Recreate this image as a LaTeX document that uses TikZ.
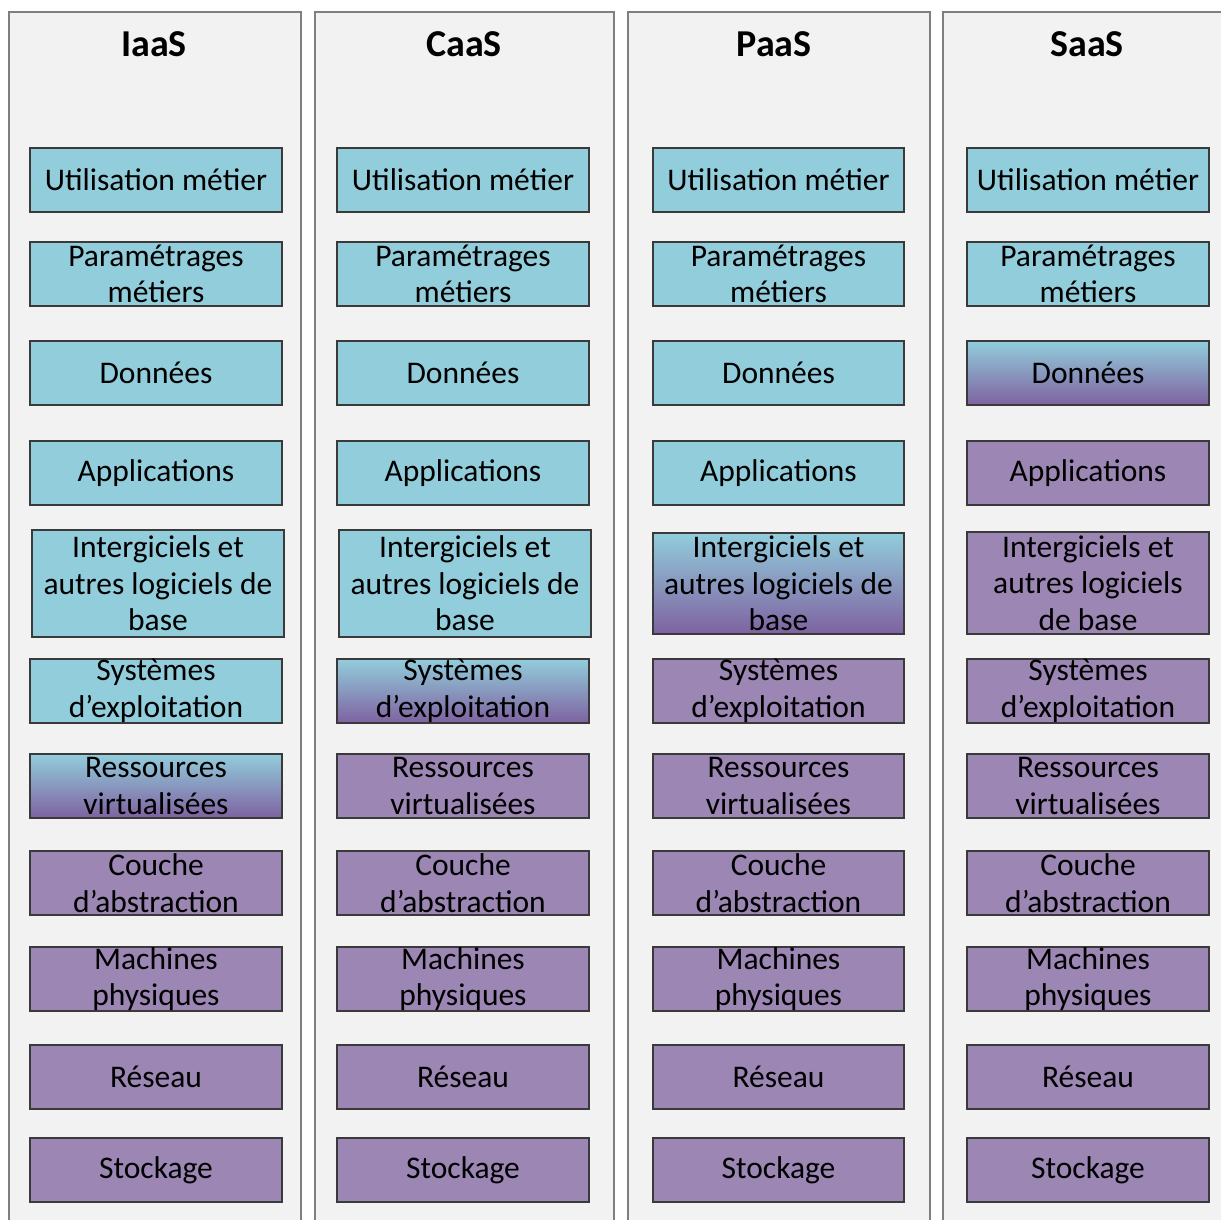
\documentclass[tikz,border=0pt]{standalone}
\usepackage{fontspec}
\setmainfont{Carlito}
\definecolor{bluebox}{HTML}{92CDDC}
\definecolor{purplebox}{HTML}{9B86B4}
\definecolor{purpledark}{HTML}{7E62A0}
\definecolor{panelfill}{HTML}{F2F2F2}
\definecolor{panelline}{HTML}{7F7F7F}
\definecolor{boxline}{HTML}{3A3A3A}
\tikzset{
  panel/.style={draw=panelline, fill=panelfill, line width=1.5pt},
  layer/.style={draw=boxline, line width=1.1pt, rectangle, inner sep=0pt,
    minimum width=252pt, minimum height=64pt, align=center,
    font=\fontsize{31.5}{36.5}\selectfont},
  bluefill/.style={fill=bluebox},
  purplefill/.style={fill=purplebox},
  gradfill/.style={top color=bluebox, bottom color=purpledark},
  coltitle/.style={font=\bfseries\fontsize{38}{42}\selectfont, inner sep=0pt}
}
\begin{document}
\begin{tikzpicture}[x=1pt,y=-1pt]
\useasboundingbox (0,0) rectangle (1221,1220);
\clip (0,0) rectangle (1221,1220);
\fill[white] (0,0) rectangle (1221,1220);
% panels
\draw[panel] (9,12) rectangle (301,1240);
\draw[panel] (315,12) rectangle (614,1240);
\draw[panel] (628,12) rectangle (930,1240);
\draw[panel] (943,12) rectangle (1240,1240);
% titles
\node[coltitle] (t-iaas) at (154,44) {IaaS};
\node[coltitle] (t-caas) at (464,44) {CaaS};
\node[coltitle] (t-paas) at (774,44) {PaaS};
\node[coltitle] (t-saas) at (1087,44) {SaaS};
% layers (all rows except row 5)
\foreach \cn/\cx/\g/\w in {iaas/156/7/252, caas/463/6/252, paas/778.5/5/251, saas/1088/3/242} {
  \foreach \r/\cy/\t in {1/180/{Utilisation métier},
                         2/274/{Paramétrages\\métiers},
                         3/373/{Données},
                         4/473/{Applications},
                         6/691/{Systèmes\\d’exploitation},
                         7/786/{Ressources\\virtualisées},
                         8/883/{Couche\\d’abstraction},
                         9/979/{Machines\\physiques},
                         10/1077/{Réseau},
                         11/1170/{Stockage}} {
    \ifnum\r<\g\relax
      \tikzset{cur/.style={bluefill}}
    \else\ifnum\r=\g\relax
      \tikzset{cur/.style={gradfill}}
    \else
      \tikzset{cur/.style={purplefill}}
    \fi\fi
    \node[layer, cur, minimum width=\w pt] (\cn-\r) at (\cx,\cy) {\t};
  }
}
% row 5
\node[layer, bluefill, minimum height=107pt] (iaas-5) at (158,583.5) {Intergiciels et\\autres logiciels de\\base};
\node[layer, bluefill, minimum height=107pt] (caas-5) at (465,583.5) {Intergiciels et\\autres logiciels de\\base};
\node[layer, gradfill, minimum width=251pt, minimum height=101pt] (paas-5) at (778.5,583.5) {Intergiciels et\\autres logiciels de\\base};
\node[layer, purplefill, minimum width=242pt, minimum height=102pt] (saas-5) at (1088,583) {Intergiciels et\\autres logiciels\\de base};
\end{tikzpicture}
\end{document}
